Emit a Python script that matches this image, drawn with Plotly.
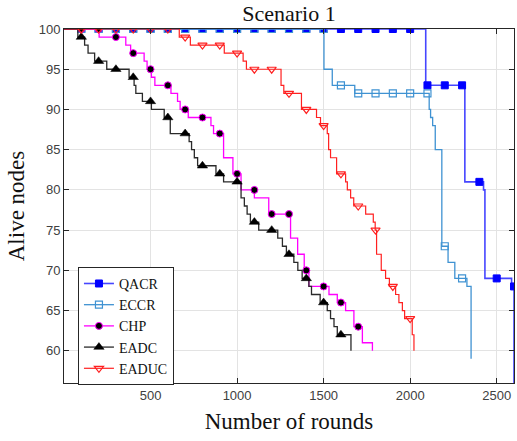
import plotly.graph_objects as go

# ---------------- data ----------------
series_names = ["QACR", "ECCR", "CHP", "EADC", "EADUC"]

# step functions: round at which the number of alive nodes changes, and the new value
qacr_rounds = [0, 2090, 2316, 2424, 2432, 2586, 2600]
qacr_alive = [100, 93, 81, 80, 69, 68, 50]

eccr_rounds = [0, 1502, 1550, 1680, 2110, 2118, 2130, 2145, 2183, 2219, 2258, 2328, 2352]
eccr_alive = [100, 95, 93, 92, 90, 89, 88, 85, 73, 71, 69, 68, 59]

chp_rounds = [0, 203, 357, 385, 463, 480, 505, 525, 618, 656, 671, 718, 849, 864, 922, 976,
              1023, 1100, 1183, 1309, 1350, 1388, 1415, 1531, 1579, 1627, 1675, 1724, 1782]
chp_alive = [100, 99, 98, 97, 96, 95, 94, 93, 92, 91, 90, 89, 88, 87, 84, 82,
             80, 79, 77, 74, 72, 70, 68, 67, 66, 65, 63, 61, 60]

eadc_rounds = [0, 80, 119, 139, 177, 247, 376, 405, 415, 453, 505, 579, 614, 723, 737, 753, 772,
               878, 922, 1023, 1042, 1058, 1077, 1125, 1235, 1262, 1285, 1328, 1351, 1376, 1415,
               1430, 1480, 1521, 1540, 1560, 1579, 1658]
eadc_alive = [100, 99, 98, 97, 96, 95, 94, 93, 92, 91, 90, 89, 87, 86, 85, 84, 83,
              82, 81, 79, 78, 77, 76, 75, 74, 73, 72, 71, 70, 69, 68,
              67, 66, 65, 64, 63, 62, 60]

eaduc_rounds = [0, 666, 730, 926, 1035, 1054, 1254, 1270, 1372, 1459, 1482, 1521, 1529, 1540, 1575,
                1627, 1637, 1656, 1674, 1743, 1787, 1798, 1806, 1833, 1858, 1880, 1916, 1935, 1955,
                1968, 2012, 2022]
eaduc_alive = [100, 99, 98, 97, 96, 95, 93, 92, 90, 89, 88, 87, 85, 84, 82,
               81, 80, 79, 78, 77, 76, 75, 72, 70, 69, 68, 67, 66, 65,
               64, 62, 60]

# markers every 100 rounds
qacr_mark_rounds = list(range(100, 2700, 100))
qacr_mark_alive = [100] * 20 + [93, 93, 93, 81, 69, 68]

eccr_mark_rounds = list(range(100, 2400, 100))
eccr_mark_alive = [100] * 15 + [93, 92, 92, 92, 92, 92, 73, 69]

chp_mark_rounds = list(range(100, 1800, 100))
chp_mark_alive = [100, 100, 99, 97, 95, 93, 90, 89, 87, 82, 80, 77, 77, 70, 68, 66, 63]

eadc_mark_rounds = list(range(100, 1700, 100))
eadc_mark_alive = [99, 96, 95, 94, 91, 89, 87, 83, 82, 81, 76, 75, 72, 69, 66, 62]

eaduc_mark_rounds = list(range(100, 2100, 100))
eaduc_mark_alive = [100, 100, 100, 100, 100, 100, 99, 98, 98, 97, 95, 95, 92, 90, 88, 82, 78, 75, 68, 64]

x_ticks = [500, 1000, 1500, 2000, 2500]
y_ticks = [60, 65, 70, 75, 80, 85, 90, 95, 100]

# ---------------- styles ----------------
styles = {
    "QACR": dict(line=dict(color="rgb(70,70,255)", width=1.6),
                 marker=dict(symbol="square", size=7, color="#0000ff",
                             line=dict(color="#0000ff", width=1))),
    "ECCR": dict(line=dict(color="#3f92d2", width=1.3),
                 marker=dict(symbol="square-open", size=7, color="#3f92d2",
                             line=dict(color="#3f92d2", width=1.2))),
    "CHP": dict(line=dict(color="#ff00ff", width=1.3),
                marker=dict(symbol="circle", size=7, color="#000000",
                            line=dict(color="#ff00ff", width=1))),
    "EADC": dict(line=dict(color="#2a2a2a", width=1.3),
                 marker=dict(symbol="triangle-up", size=9, color="#000000",
                             line=dict(color="#000000", width=0.5))),
    "EADUC": dict(line=dict(color="#ff2020", width=1.2),
                  marker=dict(symbol="triangle-down-open", size=8, color="#ff2020",
                              line=dict(color="#ff2020", width=1.2))),
}

data = {
    "QACR": (qacr_rounds, qacr_alive, qacr_mark_rounds, qacr_mark_alive),
    "ECCR": (eccr_rounds, eccr_alive, eccr_mark_rounds, eccr_mark_alive),
    "CHP": (chp_rounds, chp_alive, chp_mark_rounds, chp_mark_alive),
    "EADC": (eadc_rounds, eadc_alive, eadc_mark_rounds, eadc_mark_alive),
    "EADUC": (eaduc_rounds, eaduc_alive, eaduc_mark_rounds, eaduc_mark_alive),
}

fig = go.Figure()

for name in series_names:
    r, a, mr, ma = data[name]
    st = styles[name]
    fig.add_trace(go.Scatter(x=r, y=a, mode="lines", line_shape="hv", line=st["line"],
                             showlegend=False, legendgroup=name, hoverinfo="skip"))
    fig.add_trace(go.Scatter(x=mr, y=ma, mode="markers", marker=st["marker"],
                             showlegend=False, legendgroup=name, name=name))

for name in series_names:
    st = styles[name]
    fig.add_trace(go.Scatter(x=[None], y=[None], mode="lines+markers", name=name,
                             line=st["line"], marker=st["marker"], legendgroup=name))

axis_common = dict(
    showline=True, linecolor="#262626", linewidth=1, mirror="ticks",
    ticks="inside", ticklen=5, tickcolor="#262626",
    showgrid=True, gridcolor="#e3e3e3", gridwidth=1, zeroline=False,
    tickfont=dict(family="Liberation Sans", size=13, color="#404040"),
    automargin=False,
)

fig.update_layout(
    width=517, height=441,
    margin=dict(l=64, r=3, t=29, b=58),
    paper_bgcolor="white", plot_bgcolor="white",
    title=dict(text="Scenario 1", x=0.5, xref="paper", xanchor="center",
               y=1 - 13 / 441, yref="container", yanchor="middle",
               font=dict(family="Liberation Serif", size=22, color="#111111")),
    xaxis=dict(range=[0, 2600], tickvals=x_ticks,
               title=dict(text="Number of rounds", standoff=11,
                          font=dict(family="Liberation Serif", size=23, color="#111111")),
               **axis_common),
    yaxis=dict(range=[56, 100], tickvals=y_ticks,
               title=dict(text="Alive nodes", standoff=7,
                          font=dict(family="Liberation Serif", size=23, color="#111111")),
               **axis_common),
    legend=dict(x=0.031, y=0.328, xanchor="left", yanchor="top",
                bgcolor="white", bordercolor="#262626", borderwidth=1,
                font=dict(family="Liberation Serif", size=14, color="#111111"),
                tracegroupgap=0, itemwidth=30),
)

fig.write_html("out.html")
